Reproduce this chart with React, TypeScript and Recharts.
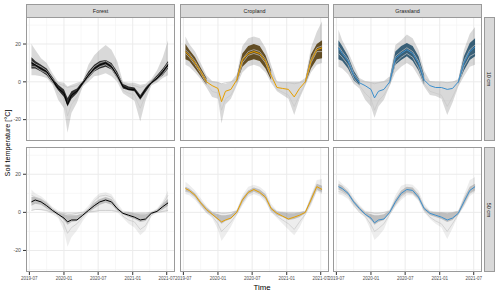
import { Area, CartesianGrid, ComposedChart, Line, XAxis, YAxis } from "recharts";

const DAY = 86400000;
const toDay = (s: string) => Date.parse(s) / DAY;

const dates = [
  "2019-07-12", "2019-08-01", "2019-09-01", "2019-10-01", "2019-11-01", "2019-12-01",
  "2020-01-01", "2020-01-20", "2020-02-10", "2020-03-10", "2020-04-10", "2020-05-10",
  "2020-06-10", "2020-07-10", "2020-08-10", "2020-09-10", "2020-10-10", "2020-11-10",
  "2020-12-10", "2021-01-10", "2021-02-10", "2021-03-10", "2021-04-10", "2021-05-10",
  "2021-06-10", "2021-07-08",
];
const majorX = ["2019-07-01", "2020-01-01", "2020-07-01", "2021-01-01", "2021-07-01"];
const minorX = ["2019-10-01", "2020-04-01", "2020-10-01", "2021-04-01"];
const xRange = ["2019-06-13", "2021-08-14"];
const majorY = [-20, 0, 20];
const minorY = [-30, -10, 10, 30];
const yRange = [-31.3, 34.3];

const landUse = ["Forest", "Cropland", "Grassland"];
const depths = ["10 cm", "50 cm"];

// 10 cm
const forest10Main = [10, 9, 7, 5.5, 1, -3.5, -6, -12, -7, -5, -0.5, 3.5, 7, 9, 10, 8, 3.5, -2.5, -4, -4, -8.5, -4, -0.5, 2, 5.5, 9];
const forest10CoreHi = [13, 11, 9, 7, 2.5, -1.5, -4, -8.5, -5, -3.5, 0.5, 5.5, 9, 11, 11.5, 10, 5.5, -1, -2.5, -3, -7, -3, 0.5, 3.5, 7, 11];
const forest10CoreLo = [7, 7, 5.5, 3.5, -0.5, -4.5, -8, -13, -9, -6, -1.5, 2, 5.5, 7, 8, 6.5, 2, -3.5, -4.5, -5, -9.5, -5.5, -1, 1, 3.5, 7];
const forest10EnvHi = [20, 17, 12.5, 10, 4.5, 0, -0.5, -2.5, -1.5, -0.5, 0.5, 9, 14, 17, 19.5, 17, 11, 0, -0.5, -0.5, -1.5, -1, 1.5, 6, 13, 22];
const forest10EnvLo = [3.5, 3.5, 3, 2, -1.5, -9.5, -14, -27, -16.5, -11, -2.5, 0, 3, 3.5, 4.5, 3, 0, -6, -8, -10, -21, -10, -2, -0.5, 2, 3.5];
const forest10GrayA = [11, 9.5, 8, 6, 1.5, -1, -2, -3, -2.5, -2, 0, 4, 8, 10, 11, 9, 4, -1, -1.5, -2, -3, -2, 0, 2.5, 6, 10];
const forest10GrayB = [8, 8, 6, 4.5, 0, -6, -9, -18, -12, -8, -2, 2.5, 6, 8, 9, 7, 2.5, -4.5, -6, -7, -14, -7, -1.5, 1, 4, 8];

const crop10Main = [16, 14, 10, 5.5, 0, -2, -3.5, -10.5, -5, -4, 1, 11.5, 15, 16, 15, 11, 3.5, -3, -3.5, -4, -8, -3.5, 0, 11, 17, 18];
const crop10CoreHi = [20, 17, 13, 7.5, 2, null, null, null, null, null, 2.5, 15, 19, 20, 19, 14, 6, null, null, null, null, null, 1, 14.5, 20, 22];
const crop10CoreLo = [12, 11, 7, 3, -1.5, null, null, null, null, null, -0.5, 8, 11, 12, 11, 7, 1, null, null, null, null, null, -1, 7, 12, 12.5];
const crop10EnvHi = [24, 20, 16, 10, 3.5, 0.5, 0, -1, -1, 0, 4, 19, 23, 24, 23, 18, 9, 0, 0, 0, 0, 0, 2, 18, 26.5, 32];
const crop10EnvLo = [9, 8, 5, 1.5, -3, -8, -9, -22, -12, -9, -2, 5, 8, 9, 8, 5, -0.5, -5, -7, -9, -17.5, -9, -2, 5, 9, 10];
const crop10GrayA = [17, 15, 11, 6, 1, 0, -0.5, -1, -0.5, 0, 1.5, 12, 16, 17, 16, 12, 4.5, 0, -0.5, -0.5, -1, -0.5, 0.5, 12, 18, 19];
const crop10GrayB = [15, 13, 9, 4.5, -1, -5, -6, -15, -9, -7, -1, 10, 14, 15, 14, 10, 2.5, -4, -5.5, -7, -13, -7, -1, 10, 16, 16];

const grass10Main = [18, 15, 11, 3.5, -0.5, -2, -4, -8.5, -5, -4, 0, 12.5, 15, 17, 15, 10, 1, -2, -3, -3, -4, -3.5, 0, 10, 16, 18.5];
const grass10CoreHi = [22, 19, 13.5, 6, 1, null, null, null, null, null, 2, 16, 19, 20.5, 19, 13.5, 3.5, null, null, null, null, null, 1, 13.5, 20.5, 23];
const grass10CoreLo = [12, 11, 7, 1, -2, null, null, null, null, null, -1.5, 9, 11.5, 13.5, 11, 6, -1.5, null, null, null, null, null, -1, 6, 11.5, 13.5];
const grass10EnvHi = [27.5, 22, 16, 9, 2, 0.5, 0, 0, 0, 0.5, 3, 19.5, 22, 25, 23, 17, 6, 0.5, 0, 0, 0, 0, 1.5, 17, 25.5, 29];
const grass10EnvLo = [8, 7, 4, -1, -3.5, -9.5, -13, -19, -13, -9.5, -2, 5, 8, 10, 8, 3, -2.5, -7, -7.5, -9, -17.5, -11, -2.5, 3, 8, 9];
const grass10GrayA = [19, 16, 12, 4.5, 0.5, 0, -0.5, -1, -0.5, 0, 1, 13.5, 16, 18, 16, 11, 2, 0, 0, 0, -0.5, 0, 0.5, 11, 17, 19.5];
const grass10GrayB = [15, 13, 9, 2, -2, -6, -9, -15, -10, -7, -1.5, 10, 13, 15, 13, 7.5, -1, -5, -6, -7, -13, -8, -1.5, 8, 13.5, 15];

// 50 cm
const forest50Main = [5.5, 6.5, 5.5, 3.5, 1, -1, -3, -5, -4, -4, -1.5, 1, 3.5, 5.5, 6.5, 5.5, 2, -0.5, -1.5, -2.5, -4, -3.5, -0.5, 0.5, 3, 5];
const forest50CoreHi = [8, 8, 7, 5, 2, 0, -1, -1.5, -1.5, -1.5, -0.5, 2, 5, 7, 8, 7, 3, 0, 0, -0.5, -1, -1, 0, 1.5, 4.5, 7];
const forest50CoreLo = [3.5, 4.5, 4, 2, 0, -1.5, -4, -6.5, -5, -4.5, -2, 0, 2, 4, 5, 4, 1, -1, -2.5, -3.5, -5, -4.5, -1, 0, 1.5, 3.5];
const forest50EnvHi = [12, 10, 8.5, 6, 3, 1, 0, 0, 0, 0, 0.5, 3.5, 7.5, 10, 10.5, 9.5, 5, 1, 0.5, 0, 0, 0, 0.5, 2, 6, 11.5];
const forest50EnvLo = [1, 1.5, 1, 0.5, -1, -3, -9.5, -18, -13, -9.5, -4.5, -0.5, 0, 0.5, 0.5, 0.5, 0, -3, -6, -8, -12, -9.5, -2, -0.5, 0, 0.5];
const forest50GrayA = [1, 1.5, 1.5, 1, 0, -0.5, -0.5, -1, -1, -0.5, 0, 0.5, 0.5, 1, 1, 1, 0.5, 0, 0, -0.5, -0.5, -0.5, 0, 0, 0.5, 1];
const forest50GrayB = [9, 8, 7, 5, 1.5, -2, -6, -11, -8, -6, -2.5, 1.5, 6, 8.5, 9, 8, 3.5, -2, -4, -5, -9, -7, -1.5, 1, 4.5, 9];

const crop50Main = [12.5, 11.5, 9, 5, 1.5, -1, -3.5, -5, -4, -3, 0, 6.5, 10.5, 12, 10.5, 8, 2, -0.5, -2, -3.5, -2.5, -1.5, 0, 6.5, 13.5, 12];
const crop50CoreHi = [13.5, 12.5, 10, 6, 2.5, 0, -1, -1.5, -1.5, -1, 1, 7.5, 11.5, 13, 12, 9.5, 3, 0.5, 0, -0.5, -0.5, 0, 0.5, 8, 15, 14];
const crop50CoreLo = [11, 10.5, 8, 4, 0.5, -1.5, -4, -6, -4.5, -3.5, -0.5, 5, 9.5, 11, 9.5, 7, 1, -1.5, -2.5, -4, -3.5, -2.5, -0.5, 5, 12, 10.5];
const crop50EnvHi = [16, 14.5, 11.5, 7.5, 3.5, 0.5, 0, 0, 0, 0, 1.5, 9, 13.5, 14.5, 13.5, 11, 4.5, 1, 0.5, 0, 0, 0, 1, 9, 17, 17.5];
const crop50EnvLo = [9.5, 9, 6.5, 3, -0.5, -3, -9, -15, -12, -7.5, -1.5, 3.5, 8, 9.5, 8.5, 5.5, 0, -3, -6, -9, -12, -8, -1.5, 3.5, 11, 9.5];
const crop50GrayA = [13, 12, 9.5, 5.5, 2, 0, 0, -0.5, -0.5, 0, 0.5, 7, 11, 12.5, 11, 8.5, 2.5, 0, 0, 0, 0, 0, 0.5, 7, 14, 13];
const crop50GrayB = [11, 10.5, 8, 4, 0, -2, -6, -10, -8, -5, -1, 5, 9.5, 11, 10, 7, 0.5, -2, -4, -6, -9, -5, -1, 5, 12, 10.5];

const grass50Main = [13.5, 12.5, 10, 5.5, 2, -1, -3, -5.5, -4, -3.5, 0, 5.5, 10, 12, 11.5, 8, 2, -0.5, -1.5, -2.5, -4, -3, -0.5, 5.5, 11.5, 13.5];
const grass50CoreHi = [15, 14, 11, 6.5, 3, 0, -1, -1.5, -1.5, -1, 1, 7, 11.5, 13.5, 13, 9.5, 3, 0.5, 0, 0, -0.5, 0, 0.5, 7.5, 13.5, 15];
const grass50CoreLo = [12, 11, 9, 4.5, 1, -1.5, -4, -6.5, -5, -4, -0.5, 4, 8.5, 10.5, 10, 7, 1, -1.5, -2.5, -3.5, -5, -4, -1, 4, 10, 11.5];
const grass50EnvHi = [17, 15, 12.5, 8, 4, 1, 0, 0, 0, 0, 1.5, 9, 14, 15, 14.5, 11.5, 4.5, 1, 0.5, 0, 0, 0, 1, 9, 17, 18.5];
const grass50EnvLo = [9.5, 9, 7, 3, 0, -3, -9.5, -14.5, -12.5, -9, -1.5, 3, 6.5, 9, 9, 6, 0, -3.5, -6, -8, -14, -8.5, -1.5, 3, 8.5, 10.5];
const grass50GrayA = [14, 13, 10.5, 6, 2.5, 0, 0, -0.5, -0.5, 0, 0.5, 6, 11, 13, 12, 9, 2.5, 0, 0, 0, 0, 0, 0.5, 6, 12.5, 14];
const grass50GrayB = [11, 10.5, 8.5, 4, 0, -2, -6.5, -10, -8.5, -6, -1, 4, 8, 10.5, 10, 7, 1, -2.5, -4.5, -6, -10, -6, -1, 4, 10, 11.5];

const lineColors = ["#000000", "#E69F00", "#3C8FCD"];
const coreColors = ["#111111", "#4d3505", "#1c4a66"];

const FONT = "'Liberation Sans', Arial, sans-serif";
const colLeft = [26, 180, 333];
const rowTop = [17, 147];
const rowH = [124, 125];
const PW = 149;
const AXW = 26;
const AXH = 20;
const PAD = 14; // room for tick labels that stick out of the panel
const BORDER = "#9a9a9a";
const TICK_FONT = 4.5;

type PanelProps = {
  series: (number | null)[][];
  col: number;
  row: number;
};

function Panel({ series, col, row }: PanelProps) {
  const [main, coreLo, coreHi, envLo, envHi, grayA, grayB] = series;
  const rows = dates.map((d, i) => ({
    t: toDay(d),
    main: main[i],
    core: coreLo[i] == null ? null : [coreLo[i], coreHi[i]],
    env: [envLo[i], envHi[i]],
    a: grayA[i],
    b: grayB[i],
  }));
  const showY = col === 0;
  const showX = row === 1;
  const yw = showY ? AXW : 0;
  const xh = showX ? AXH : 0;
  const padL = showY ? 0 : PAD;
  const h = rowH[row];
  const top10 = row === 0;
  const w = PW + yw + padL + PAD;
  return (
    <>
      <div style={{ position: "absolute", left: colLeft[col] - yw - padL, top: rowTop[row], width: w, height: h + xh }}>
        <ComposedChart width={w} height={h + xh} data={rows} margin={{ top: 0, right: PAD, bottom: 0, left: padL }}>
          <CartesianGrid horizontalValues={minorY} verticalValues={minorX.map(toDay)} stroke="#f1f1f1" strokeWidth={0.6} />
          <CartesianGrid horizontalValues={majorY} verticalValues={majorX.map(toDay)} stroke="#ebebeb" strokeWidth={1} />
          <XAxis
            type="number"
            dataKey="t"
            domain={xRange.map(toDay)}
            ticks={majorX.map(toDay)}
            allowDataOverflow
            hide={!showX}
            height={AXH}
            interval={0}
            axisLine={false}
            tickSize={3}
            tickMargin={2}
            tickLine={{ stroke: "#333333" }}
            tick={{ fontSize: TICK_FONT, fill: "#4d4d4d" }}
            tickFormatter={(v: number) => new Date(v * DAY).toISOString().slice(0, 7)}
          />
          <YAxis
            type="number"
            domain={yRange}
            ticks={majorY}
            allowDataOverflow
            hide={!showY}
            width={AXW}
            axisLine={false}
            tickSize={3}
            tickMargin={2}
            tickLine={{ stroke: "#333333" }}
            tick={{ fontSize: 5.2, fill: "#4d4d4d" }}
          />
          <Area dataKey="env" stroke="none" fill="#000" fillOpacity={top10 ? 0.15 : 0.07} isAnimationActive={false} />
          <Line dataKey="a" stroke="#c2c2c2" strokeWidth={0.7} dot={false} isAnimationActive={false} />
          <Line dataKey="b" stroke="#c8c8c8" strokeWidth={0.7} dot={false} isAnimationActive={false} />
          <Area
            dataKey="core"
            stroke="none"
            fill={top10 ? coreColors[col] : "#7a7a7a"}
            fillOpacity={top10 ? 0.85 : 0.4}
            isAnimationActive={false}
          />
          <Line dataKey="main" stroke={lineColors[col]} strokeWidth={1} dot={false} isAnimationActive={false} />
        </ComposedChart>
      </div>
      <div
        style={{
          position: "absolute",
          left: colLeft[col],
          top: rowTop[row],
          width: PW,
          height: h,
          border: `1px solid ${BORDER}`,
          boxSizing: "border-box",
          pointerEvents: "none",
        }}
      />
    </>
  );
}

const panels = [
  [
    [forest10Main, forest10CoreLo, forest10CoreHi, forest10EnvLo, forest10EnvHi, forest10GrayA, forest10GrayB],
    [crop10Main, crop10CoreLo, crop10CoreHi, crop10EnvLo, crop10EnvHi, crop10GrayA, crop10GrayB],
    [grass10Main, grass10CoreLo, grass10CoreHi, grass10EnvLo, grass10EnvHi, grass10GrayA, grass10GrayB],
  ],
  [
    [forest50Main, forest50CoreLo, forest50CoreHi, forest50EnvLo, forest50EnvHi, forest50GrayA, forest50GrayB],
    [crop50Main, crop50CoreLo, crop50CoreHi, crop50EnvLo, crop50EnvHi, crop50GrayA, crop50GrayB],
    [grass50Main, grass50CoreLo, grass50CoreHi, grass50EnvLo, grass50EnvHi, grass50GrayA, grass50GrayB],
  ],
];

const stripStyle = {
  position: "absolute" as const,
  background: "#d9d9d9",
  border: `1px solid ${BORDER}`,
  boxSizing: "border-box" as const,
  display: "flex",
  alignItems: "center",
  justifyContent: "center",
  fontSize: 5.4,
  color: "#1a1a1a",
};

export default function App() {
  return (
    <div
      style={{
        position: "absolute",
        left: 0,
        top: 0,
        width: 500,
        height: 294,
        background: "#fff",
        fontFamily: FONT,
        overflow: "hidden",
      }}
    >
      {panels.map((rowPanels, r) =>
        rowPanels.map((series, c) => <Panel key={`${r}-${c}`} series={series} col={c} row={r} />)
      )}
      {landUse.map((name, c) => (
        <div key={name} style={{ ...stripStyle, left: colLeft[c], top: 4, width: PW, height: 14 }}>
          {name}
        </div>
      ))}
      {depths.map((name, r) => (
        <div key={name} style={{ ...stripStyle, left: 484, top: rowTop[r], width: 11, height: rowH[r] }}>
          <span style={{ transform: "rotate(90deg)", whiteSpace: "nowrap" }}>{name}</span>
        </div>
      ))}
      <div
        style={{
          position: "absolute",
          left: 7.5 - 60,
          top: 143 - 5,
          width: 120,
          height: 10,
          lineHeight: "10px",
          textAlign: "center",
          fontSize: 7.2,
          color: "#000",
          transform: "rotate(-90deg)",
          whiteSpace: "nowrap",
        }}
      >
        Soil temperature [°C]
      </div>
      <div
        style={{
          position: "absolute",
          left: 262 - 40,
          top: 288 - 5,
          width: 80,
          height: 10,
          lineHeight: "10px",
          textAlign: "center",
          fontSize: 7.8,
          color: "#000",
        }}
      >
        Time
      </div>
    </div>
  );
}
